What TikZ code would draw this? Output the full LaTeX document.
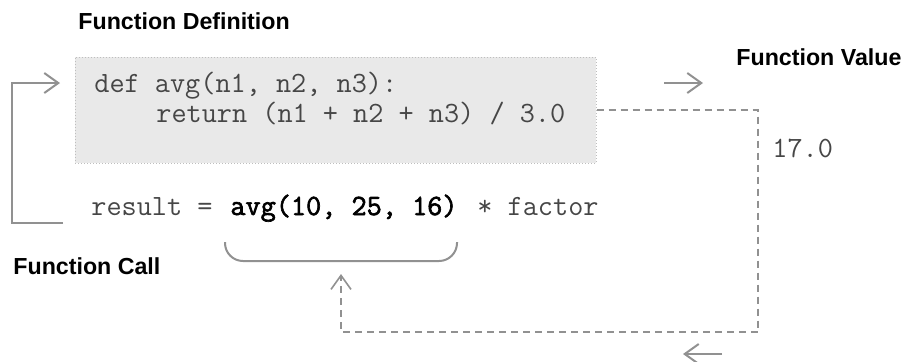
\documentclass[tikz,border=0pt]{standalone}
\usepackage{fontspec}
\setmainfont{Liberation Sans}
\newfontfamily\codebold{Latin Modern Mono}[FakeBold=2.2]
\usetikzlibrary{arrows.meta, positioning}
\definecolor{linegray}{RGB}{145,145,145}
\definecolor{boxfill}{RGB}{233,233,233}
\definecolor{boxline}{RGB}{190,190,190}
\definecolor{codegray}{RGB}{70,70,70}

\tikzset{
  heading/.style={font=\fontsize{11.6}{14}\selectfont\bfseries, anchor=base west, inner sep=0pt},
  code/.style={font=\fontsize{14.7}{17}\selectfont\ttfamily, text=codegray, anchor=base west, inner sep=0pt},
  flow/.style={linegray, line width=1pt},
  ret/.style={linegray, line width=0.8pt, dash pattern=on 3.5pt off 2.5pt},
  tip/.style={-{Straight Barb[length=7pt, width=10pt]}}
}

\begin{document}
\begin{tikzpicture}[x=0.5pt, y=-0.5pt]
    \useasboundingbox (0,0) rectangle (904,361);
    % Headings
    \node[heading] (defhead) at (78,29) {Function Definition};
    \node[heading] (valhead) at (736,65) {Function Value};
    \node[heading] (callhead) at (13,274) {Function Call};
    % Function body
    \node[fill=boxfill, draw=boxline, densely dotted, line width=0.5pt,
          minimum width=260.5pt, minimum height=53pt, inner sep=0pt] (defbox) at (335.5,110) {};
    \node[code] (sig) at (94,92) {def avg(n1, n2, n3):};
    \node[code] (body) at (156,122) {return (n1 + n2 + n3) / 3.0};
    % Call
    \node[code] (lhs) at (91,215) {result =};
    \node[code, text=black, font=\fontsize{14.7}{17}\selectfont\codebold] (callexpr) at (230,215) {avg(10, 25, 16)};
    \node[code] (rhs) at (477,215) {* factor};
    \node[code] (value) at (772,157) {17.0};
    % Bracket under the call
    \draw[flow, rounded corners=9pt] (225,242) -- (225,261) -- (457,261) -- (457,242);
    % Jump to the definition
    \coordinate (callfoot) at (63,223);
    \coordinate (defentry) at (60,83);
    \draw[flow, tip] (callfoot) -| (12,83) -- (defentry);
    % Return value
    \coordinate (retout) at (defbox.east |- 0,110);
    \coordinate (callback) at (341,274);
    \draw[ret, tip] (retout) -| (758,332) -| (callback);
    % Direction arrows
    \coordinate (outa) at (664,83);
    \coordinate (outb) at (703,83);
    \coordinate (backa) at (722,354);
    \coordinate (backb) at (683,354);
    \draw[flow, tip] (outa) -- (outb);
    \draw[flow, tip] (backa) -- (backb);
\end{tikzpicture}
\end{document}
